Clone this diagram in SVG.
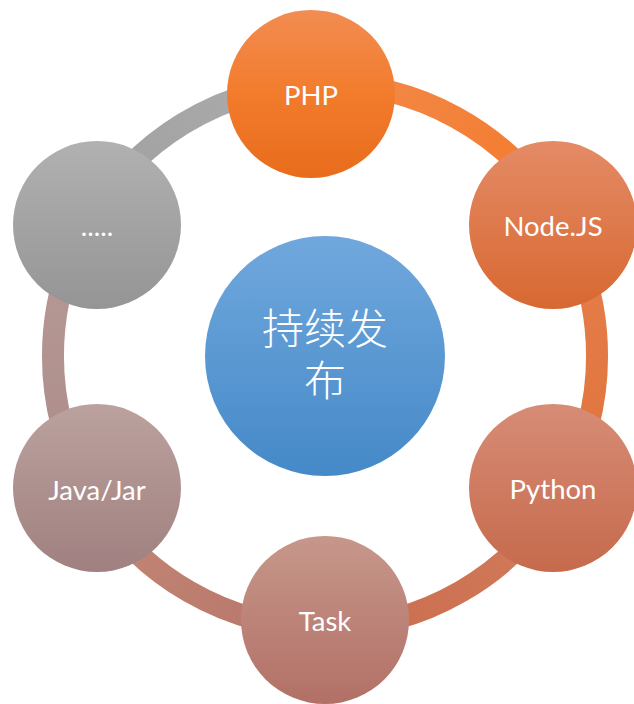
<svg xmlns="http://www.w3.org/2000/svg" width="634" height="704" viewBox="0 0 634 704">
<style>
.seg{fill:none;stroke-width:22}
.lbl{font-family:Lato,"Open Sans","Liberation Sans",sans-serif;font-size:27.5px;fill:#ffffff;text-anchor:middle}
.cjk{font-family:"Noto Sans CJK SC",sans-serif;font-size:42px;font-weight:300;fill:#ffffff;text-anchor:middle}
</style>
<defs>
<linearGradient id="gPHP" x1="0" y1="0" x2="0" y2="1"><stop offset="0" stop-color="#f28c52"/><stop offset="0.5" stop-color="#f27c2c"/><stop offset="1" stop-color="#e86c1c"/></linearGradient>
<linearGradient id="gNode" x1="0" y1="0" x2="0" y2="1"><stop offset="0" stop-color="#e48b66"/><stop offset="1" stop-color="#d86832"/></linearGradient>
<linearGradient id="gPy" x1="0" y1="0" x2="0" y2="1"><stop offset="0" stop-color="#d78c76"/><stop offset="1" stop-color="#c66a4c"/></linearGradient>
<linearGradient id="gTask" x1="0" y1="0" x2="0" y2="1"><stop offset="0" stop-color="#c7978b"/><stop offset="1" stop-color="#b27066"/></linearGradient>
<linearGradient id="gJava" x1="0" y1="0" x2="0" y2="1"><stop offset="0" stop-color="#bba29e"/><stop offset="1" stop-color="#a08080"/></linearGradient>
<linearGradient id="gDots" x1="0" y1="0" x2="0" y2="1"><stop offset="0" stop-color="#b1b1b1"/><stop offset="1" stop-color="#959595"/></linearGradient>
<linearGradient id="gCenter" x1="0" y1="0" x2="0" y2="1"><stop offset="0" stop-color="#70a8dd"/><stop offset="1" stop-color="#4589c8"/></linearGradient>
<linearGradient id="s1" gradientUnits="userSpaceOnUse" x1="311" y1="84" x2="561" y2="220"><stop offset="0" stop-color="#f28a4c"/><stop offset="1" stop-color="#f47a2a"/></linearGradient>
<linearGradient id="s2" gradientUnits="userSpaceOnUse" x1="561" y1="220" x2="561" y2="492"><stop offset="0" stop-color="#e6804e"/><stop offset="1" stop-color="#e0723a"/></linearGradient>
<linearGradient id="s3" gradientUnits="userSpaceOnUse" x1="561" y1="492" x2="325" y2="628"><stop offset="0" stop-color="#d27c5c"/><stop offset="1" stop-color="#c96c4c"/></linearGradient>
<linearGradient id="s4" gradientUnits="userSpaceOnUse" x1="325" y1="628" x2="89" y2="492"><stop offset="0" stop-color="#b67468"/><stop offset="1" stop-color="#c48878"/></linearGradient>
<linearGradient id="s5" gradientUnits="userSpaceOnUse" x1="89" y1="492" x2="89" y2="220"><stop offset="0" stop-color="#ab8c88"/><stop offset="1" stop-color="#b89a96"/></linearGradient>
<linearGradient id="s6" gradientUnits="userSpaceOnUse" x1="89" y1="220" x2="311" y2="84"><stop offset="0" stop-color="#9f9f9f"/><stop offset="1" stop-color="#adadad"/></linearGradient>
</defs>
<g id="connectors">
<path class="seg" stroke="url(#s1)" d="M310.8,84.1 A272,272 0 0 1 560.6,220"/>
<path class="seg" stroke="url(#s2)" d="M560.6,220 A272,272 0 0 1 560.6,492"/>
<path class="seg" stroke="url(#s3)" d="M560.6,492 A272,272 0 0 1 325,628"/>
<path class="seg" stroke="url(#s4)" d="M325,628 A272,272 0 0 1 89.4,492"/>
<path class="seg" stroke="url(#s5)" d="M89.4,492 A272,272 0 0 1 89.4,220"/>
<path class="seg" stroke="url(#s6)" d="M89.4,220 A272,272 0 0 1 310.8,84.1"/>
</g>
<g id="center">
<circle cx="325" cy="356" r="120" fill="url(#gCenter)"/>
<text class="cjk"><tspan x="325" y="344">持续发</tspan><tspan x="325" y="396">布</tspan></text>
</g>
<g id="php">
<circle cx="311" cy="94" r="84" fill="url(#gPHP)"/>
<text class="lbl" x="311" y="105">PHP</text>
</g>
<g id="nodejs">
<circle cx="553" cy="225" r="84" fill="url(#gNode)"/>
<text class="lbl" x="553" y="236">Node.JS</text>
</g>
<g id="python">
<circle cx="553" cy="488" r="84" fill="url(#gPy)"/>
<text class="lbl" x="553" y="499">Python</text>
</g>
<g id="task">
<circle cx="325" cy="620" r="84" fill="url(#gTask)"/>
<text class="lbl" x="325" y="631">Task</text>
</g>
<g id="java">
<circle cx="97" cy="488" r="84" fill="url(#gJava)"/>
<text class="lbl" x="97" y="500">Java/Jar</text>
</g>
<g id="more">
<circle cx="97" cy="225" r="84" fill="url(#gDots)"/>
<text class="lbl" x="97" y="236">.....</text>
</g>
</svg>
